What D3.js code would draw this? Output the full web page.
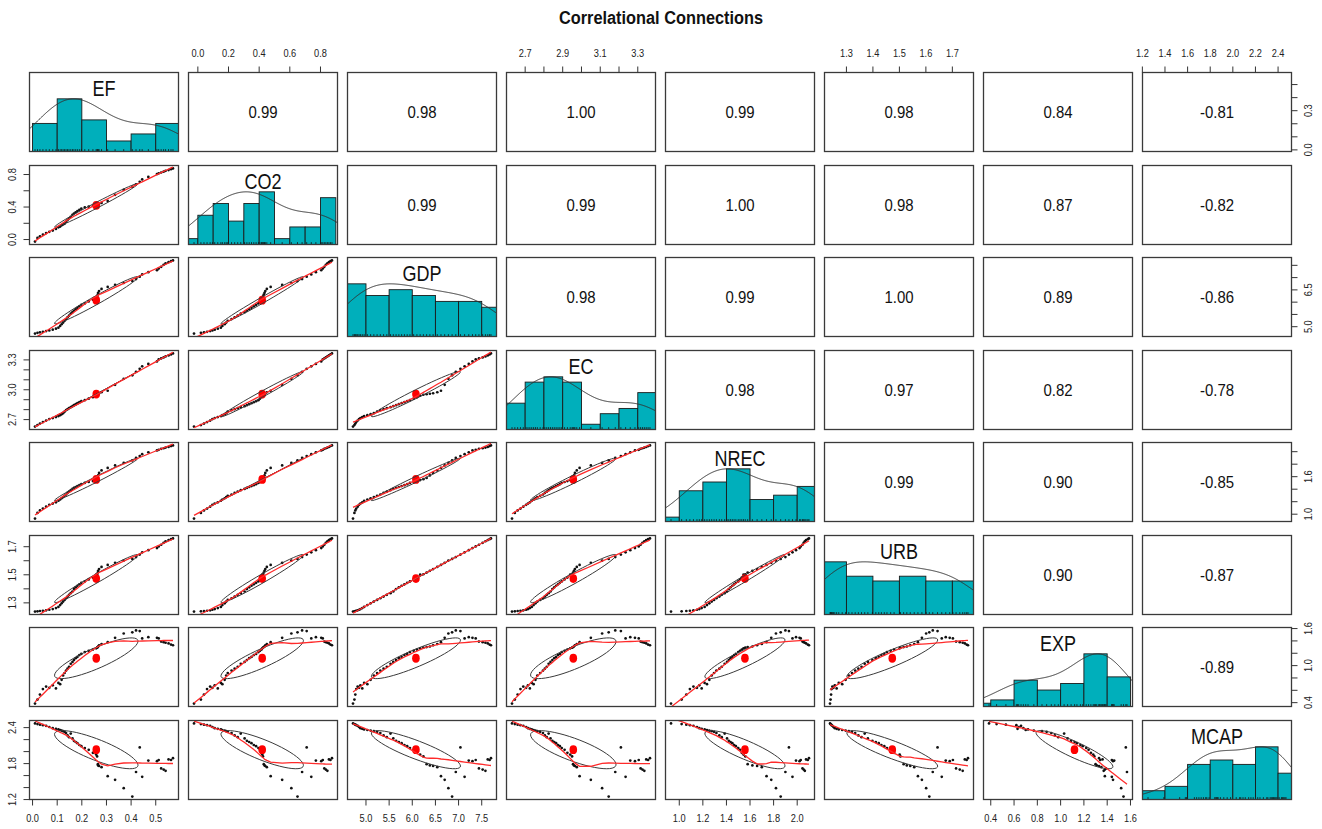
<!DOCTYPE html>
<html>
<head>
<meta charset="utf-8">
<title>Correlational Connections</title>
<script src="https://cdn.jsdelivr.net/npm/d3@7"></script>
<style>
  body { margin: 0; background: #fff; }
  svg { display: block; }
  text { font-family: "Liberation Sans", Arial, sans-serif; }
</style>
</head>
<body>
<svg id="chart" width="1322" height="829"></svg>
<script>
// ---- observations (48 yearly records, in time order) ----
const varNames = ["EF", "CO2", "GDP", "EC", "NREC", "URB", "EXP", "MCAP"];

const EF = [0.010, 0.020, 0.030, 0.042, 0.055, 0.068, 0.082, 0.095,
  0.105, 0.112, 0.118, 0.124, 0.130, 0.136, 0.142, 0.148, 0.155, 0.162, 0.168, 0.175, 0.182, 0.190, 0.198,
  0.212, 0.228, 0.245, 0.258, 0.262, 0.265, 0.266, 0.270, 0.280,
  0.305, 0.335, 0.370,
  0.405, 0.420, 0.435, 0.445, 0.470,
  0.505, 0.512, 0.522, 0.532, 0.540, 0.552, 0.562, 0.570];

const CO2 = [-0.025, 0.020, 0.040, 0.060, 0.080, 0.095,
  0.110, 0.130, 0.150, 0.160, 0.175, 0.185, 0.195,
  0.220, 0.240, 0.260, 0.280,
  0.305, 0.320, 0.335, 0.350, 0.365, 0.380, 0.395,
  0.405, 0.415, 0.420, 0.425, 0.430, 0.435, 0.440, 0.450, 0.475,
  0.550, 0.610, 0.650, 0.680, 0.710, 0.740, 0.770,
  0.805, 0.815, 0.825, 0.835, 0.845, 0.855, 0.865, 0.875];

const GDP = [4.72, 4.75, 4.77, 4.79, 4.82, 4.85, 4.88, 4.92, 4.96,
  5.03, 5.10, 5.17, 5.24, 5.31, 5.38, 5.45,
  5.53, 5.59, 5.65, 5.71, 5.77, 5.83, 5.89, 5.95,
  6.03, 6.10, 6.17, 6.24, 6.31, 6.38, 6.45,
  6.54, 6.62, 6.70, 6.78, 6.86, 6.94,
  7.04, 7.13, 7.22, 7.30, 7.37, 7.44,
  7.52, 7.58, 7.63, 7.67, 7.70];

const EC = [2.630, 2.645, 2.660, 2.675, 2.690,
  2.705, 2.715, 2.725, 2.735, 2.745, 2.755, 2.765, 2.780, 2.795,
  2.805, 2.815, 2.825, 2.835, 2.845, 2.855, 2.865, 2.875, 2.885, 2.895,
  2.910, 2.925, 2.940, 2.950, 2.955, 2.960, 2.965, 2.975, 2.990,
  3.050, 3.110, 3.145, 3.180,
  3.210, 3.235, 3.260, 3.285,
  3.305, 3.315, 3.325, 3.335, 3.345, 3.355, 3.365];

const NREC = [0.93, 1.02, 1.06, 1.09, 1.12, 1.15, 1.17, 1.19,
  1.215, 1.235, 1.255, 1.275, 1.295, 1.315, 1.34, 1.36, 1.385,
  1.405, 1.42, 1.435, 1.45, 1.465, 1.48, 1.50, 1.515, 1.53, 1.545, 1.56, 1.58,
  1.62, 1.66, 1.70, 1.74, 1.78,
  1.82, 1.86, 1.90, 1.93, 1.96, 1.99,
  2.02, 2.03, 2.045, 2.055, 2.065, 2.075, 2.09, 2.10];

const URB = [1.238, 1.240, 1.242, 1.244, 1.247, 1.251, 1.256, 1.263, 1.271, 1.284, 1.297,
  1.309, 1.321, 1.333, 1.345, 1.357, 1.369, 1.381, 1.398,
  1.411, 1.422, 1.432, 1.443, 1.453, 1.467, 1.480,
  1.501, 1.504, 1.516, 1.528, 1.541, 1.556, 1.570, 1.585,
  1.601, 1.613, 1.626, 1.644, 1.660, 1.675, 1.690,
  1.702, 1.714, 1.728, 1.739, 1.747, 1.754, 1.759];

const EXP = [0.385, 0.450, 0.530,
  0.620, 0.660, 0.640, 0.680, 0.630, 0.720, 0.700, 0.770,
  0.840, 0.880, 0.920, 0.950, 0.980,
  1.030, 1.060, 1.090, 1.120, 1.140, 1.170, 1.190,
  1.220, 1.240, 1.260, 1.280, 1.290, 1.300, 1.310, 1.330, 1.350, 1.380,
  1.450, 1.520, 1.540, 1.570, 1.560, 1.440, 1.460, 1.450, 1.440,
  1.390, 1.380, 1.370, 1.360, 1.340, 1.330];

const MCAP = [2.47, 2.46, 2.45, 2.44, 2.43, 2.41,
  2.39, 2.38, 2.37, 2.36, 2.35, 2.34, 2.33, 2.31, 2.27, 2.24, 2.30, 2.22,
  2.18, 2.16, 2.14, 2.11, 2.09, 2.06, 2.03,
  1.98, 1.95, 1.92, 1.79, 1.77, 1.76, 1.74,
  1.59, 1.53, 1.39, 1.25,
  1.66, 2.07, 1.58,
  1.85, 1.84, 1.86, 1.72, 1.70, 1.68, 1.87, 1.86, 1.89];

// Pearson correlations printed in the upper panels (row by row, right of the diagonal)
const corrEF   = [0.99, 0.98, 1.00, 0.99, 0.98, 0.84, -0.81];
const corrCO2  = [0.99, 0.99, 1.00, 0.98, 0.87, -0.82];
const corrGDP  = [0.98, 0.99, 1.00, 0.89, -0.86];
const corrEC   = [0.98, 0.97, 0.82, -0.78];
const corrNREC = [0.99, 0.90, -0.85];
const corrURB  = [0.90, -0.87];
const corrEXP  = [-0.89];

// Outer axis ticks; "col" labels sit on the top/bottom axes, "row" labels on the left/right axes
const efTicks   = [0, 0.1, 0.2, 0.3, 0.4, 0.5];
const co2Ticks  = [0, 0.2, 0.4, 0.6, 0.8];
const gdpTicks  = [5, 5.5, 6, 6.5, 7, 7.5];
const ecTicks   = [2.7, 2.8, 2.9, 3.0, 3.1, 3.2, 3.3];
const nrecTicks = [1.0, 1.2, 1.4, 1.6, 1.8, 2.0];
const urbTicks  = [1.3, 1.4, 1.5, 1.6, 1.7];
const expTicks  = [0.4, 0.6, 0.8, 1.0, 1.2, 1.4, 1.6];
const mcapTicks = [1.2, 1.4, 1.6, 1.8, 2.0, 2.2, 2.4];

const efColLabels   = efTicks;                 const efRowLabels   = [0, 0.3];
const co2ColLabels  = co2Ticks;                const co2RowLabels  = [0, 0.4, 0.8];
const gdpColLabels  = gdpTicks;                const gdpRowLabels  = [5, 6.5];
const ecColLabels   = [2.7, 2.9, 3.1, 3.3];    const ecRowLabels   = [2.7, 3.0, 3.3];
const nrecColLabels = nrecTicks;               const nrecRowLabels = [1.0, 1.6];
const urbColLabels  = urbTicks;                const urbRowLabels  = [1.3, 1.5, 1.7];
const expColLabels  = expTicks;                const expRowLabels  = [0.4, 1.0, 1.6];
const mcapColLabels = mcapTicks;               const mcapRowLabels = [1.2, 1.8, 2.4];

const titleText = "Correlational Connections";

// ---- assemble ----
const series = [EF, CO2, GDP, EC, NREC, URB, EXP, MCAP];
const corrRows = [corrEF, corrCO2, corrGDP, corrEC, corrNREC, corrURB, corrEXP];
const ticksByVar = [efTicks, co2Ticks, gdpTicks, ecTicks, nrecTicks, urbTicks, expTicks, mcapTicks];
const colLabelsByVar = [efColLabels, co2ColLabels, gdpColLabels, ecColLabels, nrecColLabels, urbColLabels, expColLabels, mcapColLabels];
const rowLabelsByVar = [efRowLabels, co2RowLabels, gdpRowLabels, ecRowLabels, nrecRowLabels, urbRowLabels, expRowLabels, mcapRowLabels];

const nVar = varNames.length;
const W = 149, H = 79;
const colX = k => Math.round(29 + k * 158.96) + 0.5;
const rowY = k => Math.round(72.3 + k * 92.53) + 0.5;
const histFill = "#00AFBB";
const smoothCol = "#ff2a2a";
const fmt = v => v.toFixed(1);

// R-style padded range (4% each side)
function padded(vals) {
  const [lo, hi] = d3.extent(vals);
  const r = hi - lo;
  return [lo - 0.04 * r, hi + 0.04 * r];
}
const xScales = series.map((s, j) => d3.scaleLinear().domain(padded(s)).range([colX(j), colX(j) + W]));
const yScales = series.map((s, i) => d3.scaleLinear().domain(padded(s)).range([rowY(i) + H, rowY(i)]));

// lowess smoother (Cleveland), f = 2/3, 3 robustness iterations
function lowess(xIn, yIn, f = 2 / 3, nsteps = 3) {
  const n = xIn.length;
  const order = d3.range(n).sort((a, b) => xIn[a] - xIn[b]);
  const x = [0].concat(order.map(i => xIn[i]));
  const y = [0].concat(order.map(i => yIn[i]));
  const ys = new Array(n + 1).fill(0);
  const rw = new Array(n + 1).fill(1);
  const w = new Array(n + 1).fill(0);
  const delta = 0.01 * (x[n] - x[1]);
  const ns = Math.max(2, Math.min(n, Math.floor(f * n + 1e-7)));
  const cube = v => v * v * v;

  function lowest(xs, nleft, nright, userw) {
    const range = x[n] - x[1];
    const h = Math.max(xs - x[nleft], x[nright] - xs);
    const h9 = 0.999 * h, h1 = 0.001 * h;
    let a = 0, j = nleft;
    while (j <= n) {
      w[j] = 0;
      const r = Math.abs(x[j] - xs);
      if (r <= h9) {
        w[j] = r <= h1 ? 1 : cube(1 - cube(r / h));
        if (userw) w[j] *= rw[j];
        a += w[j];
      } else if (x[j] > xs) break;
      j++;
    }
    const nrt = j - 1;
    if (a <= 0) return null;
    for (j = nleft; j <= nrt; j++) w[j] /= a;
    if (h > 0) {
      a = 0;
      for (j = nleft; j <= nrt; j++) a += w[j] * x[j];
      let b = xs - a, c = 0;
      for (j = nleft; j <= nrt; j++) c += w[j] * (x[j] - a) * (x[j] - a);
      if (Math.sqrt(c) > 0.001 * range) {
        b /= c;
        for (j = nleft; j <= nrt; j++) w[j] *= (b * (x[j] - a) + 1);
      }
    }
    let out = 0;
    for (j = nleft; j <= nrt; j++) out += w[j] * y[j];
    return out;
  }

  for (let iter = 1; iter <= nsteps + 1; iter++) {
    let nleft = 1, nright = ns, last = 0, i = 1;
    for (;;) {
      if (nright < n) {
        const d1 = x[i] - x[nleft], d2 = x[nright + 1] - x[i];
        if (d1 > d2) { nleft++; nright++; continue; }
      }
      const fit = lowest(x[i], nleft, nright, iter > 1);
      ys[i] = fit === null ? y[i] : fit;
      if (last < i - 1) {
        const denom = x[i] - x[last];
        for (let j = last + 1; j < i; j++) {
          const alpha = (x[j] - x[last]) / denom;
          ys[j] = alpha * ys[i] + (1 - alpha) * ys[last];
        }
      }
      last = i;
      const cut = x[last] + delta;
      for (i = last + 1; i <= n; i++) {
        if (x[i] > cut) break;
        if (x[i] === x[last]) { ys[i] = ys[last]; last = i; }
      }
      i = Math.max(last + 1, i - 1);
      if (last >= n) break;
    }
    const resid = d3.range(1, n + 1).map(k => y[k] - ys[k]);
    const sc = d3.sum(resid, Math.abs) / n;
    if (iter > nsteps) break;
    const sorted = resid.map(Math.abs).sort((a, b) => a - b);
    const m1 = Math.floor(n / 2);
    const cmad = n % 2 === 0 ? 3 * (sorted[m1] + sorted[n - m1 - 1]) : 6 * sorted[m1];
    if (cmad < 1e-7 * sc) break;
    const c9 = 0.999 * cmad, c1 = 0.001 * cmad;
    for (let k = 1; k <= n; k++) {
      const r = Math.abs(resid[k - 1]);
      rw[k] = r <= c1 ? 1 : (r <= c9 ? Math.pow(1 - (r / cmad) * (r / cmad), 2) : 0);
    }
  }
  return d3.range(1, n + 1).map(k => [x[k], ys[k]]);
}

// Gaussian kernel density, bandwidth nrd * 1.2, scaled to a peak of 1
function densityCurve(vals) {
  const n = vals.length;
  const sorted = vals.slice().sort((a, b) => a - b);
  const iqr = d3.quantile(sorted, 0.75) - d3.quantile(sorted, 0.25);
  const bw = 1.2 * 1.06 * Math.min(d3.deviation(vals), iqr / 1.34) * Math.pow(n, -0.2);
  const lo = sorted[0] - 3 * bw, hi = sorted[n - 1] + 3 * bw;
  const pts = d3.range(512).map(k => {
    const xv = lo + (hi - lo) * k / 511;
    return [xv, d3.sum(vals, v => Math.exp(-0.5 * ((xv - v) / bw) ** 2))];
  });
  const mx = d3.max(pts, p => p[1]);
  return pts.map(p => [p[0], p[1] / mx]);
}

// Sturges histogram on "pretty" breaks, right-closed bins
function histogram(vals) {
  const [lo, hi] = d3.extent(vals);
  const k = Math.ceil(Math.log2(vals.length) + 1);
  const step = d3.tickStep(lo, hi, k);
  const a = Math.floor(lo / step + 1e-9), b = Math.ceil(hi / step - 1e-9);
  const bins = [];
  for (let m = a; m < b; m++) {
    const x0 = +(m * step).toFixed(10), x1 = +((m + 1) * step).toFixed(10);
    const count = vals.filter(v => (v > x0 || (m === a && v >= x0)) && v <= x1).length;
    bins.push({ x0, x1, count });
  }
  return bins;
}

// text squeezed horizontally to the narrow look of the device font
function narrowText(parent, x, y, str, size, sx, rotate = 0) {
  return parent.append("text")
    .attr("transform", `translate(${x},${y})${rotate ? ` rotate(${rotate})` : ""} scale(${sx},1)`)
    .attr("text-anchor", "middle").attr("dominant-baseline", "central")
    .attr("font-size", size)
    .text(str);
}

const svg = d3.select("#chart");
const defs = svg.append("defs");

narrowText(svg, 661, 18, titleText, 19, 0.86)
  .attr("font-weight", "bold").attr("fill", "#111");

for (let i = 0; i < nVar; i++) {
  for (let j = 0; j < nVar; j++) {
    const px = colX(j), py = rowY(i);
    const clipId = `clip-${i}-${j}`;
    defs.append("clipPath").attr("id", clipId)
      .append("rect").attr("x", px).attr("y", py).attr("width", W).attr("height", H);
    const g = svg.append("g");
    const inner = g.append("g").attr("clip-path", `url(#${clipId})`);
    const xs = xScales[j];

    if (i === j) {
      // diagonal: histogram, density, rug and variable name
      const vals = series[i];
      const bins = histogram(vals);
      const maxCount = d3.max(bins, b => b.count);
      const yh = d3.scaleLinear().domain([0, 1.5]).range([py + H, py]);
      inner.selectAll("rect.bar").data(bins).join("rect")
        .attr("class", "bar")
        .attr("x", b => xs(b.x0)).attr("width", b => xs(b.x1) - xs(b.x0))
        .attr("y", b => yh(b.count / maxCount))
        .attr("height", b => yh(0) - yh(b.count / maxCount))
        .attr("fill", histFill).attr("stroke", "#1a1a1a").attr("stroke-width", 0.9);
      inner.append("path")
        .attr("d", d3.line().x(p => xs(p[0])).y(p => yh(p[1]))(densityCurve(vals)))
        .attr("fill", "none").attr("stroke", "#333").attr("stroke-width", 1);
      inner.selectAll("line.rug").data(vals).join("line")
        .attr("class", "rug")
        .attr("x1", v => xs(v)).attr("x2", v => xs(v))
        .attr("y1", py + H).attr("y2", py + H - 0.03 * H)
        .attr("stroke", "#111").attr("stroke-width", 0.8);
      narrowText(g, px + W / 2, py + 16, varNames[i], 22, 0.82).attr("fill", "#111");
    } else if (i > j) {
      // lower: scatter, mean, correlation ellipse, lowess
      const ys = yScales[i];
      const xv = series[j], yv = series[i];
      inner.selectAll("circle.pt").data(xv).join("circle")
        .attr("class", "pt")
        .attr("cx", (d, k) => xs(xv[k])).attr("cy", (d, k) => ys(yv[k]))
        .attr("r", 1.35).attr("fill", "#111");
      const mx = d3.mean(xv), my = d3.mean(yv);
      const sx = d3.deviation(xv), sy = d3.deviation(yv);
      const r = corrRows[j][i - j - 1];
      const th = (r >= 0 ? 1 : -1) / Math.SQRT2;
      const s1 = Math.sqrt(1 + r), s2 = Math.sqrt(1 - r);
      const ell = d3.range(52).map(k => {
        const a = k * 2 * Math.PI / 51, c = Math.cos(a), s = Math.sin(a);
        return [(c * s1 * th - s * s2 * th) * sx + mx, (c * s1 * th + s * s2 * th) * sy + my];
      });
      inner.append("ellipse")
        .attr("cx", xs(mx)).attr("cy", ys(my)).attr("rx", 3.8).attr("ry", 4.4).attr("fill", "#ff0000");
      inner.append("path")
        .attr("d", d3.line().x(p => xs(p[0])).y(p => ys(p[1]))(ell))
        .attr("fill", "none").attr("stroke", "#3a3a3a").attr("stroke-width", 1);
      inner.append("path")
        .attr("d", d3.line().x(p => xs(p[0])).y(p => ys(p[1]))(lowess(xv, yv)))
        .attr("fill", "none").attr("stroke", smoothCol).attr("stroke-width", 1.3);
    } else {
      // upper: correlation coefficient
      narrowText(g, px + W / 2, py + H / 2, corrRows[i][j - i - 1].toFixed(2), 17, 0.88)
        .attr("fill", "#111");
    }

    g.append("rect")
      .attr("x", px).attr("y", py).attr("width", W).attr("height", H)
      .attr("fill", "none").attr("stroke", "#3a3a3a").attr("stroke-width", 1.3);
  }
}

// ---- outer axes ----
const axisG = svg.append("g").attr("fill", "#222");
const tickLen = 6;
for (let k = 0; k < nVar; k++) {
  const ticks = ticksByVar[k];
  const colLab = colLabelsByVar[k];
  const rowLab = rowLabelsByVar[k];
  const xs = xScales[k], ys = yScales[k];
  // column axis: top for odd positions, bottom for even
  const onTop = k % 2 === 1;
  const yEdge = onTop ? rowY(0) : rowY(nVar - 1) + H;
  const dir = onTop ? -1 : 1;
  ticks.forEach(t => {
    axisG.append("line")
      .attr("x1", xs(t)).attr("x2", xs(t))
      .attr("y1", yEdge).attr("y2", yEdge + dir * tickLen)
      .attr("stroke", "#333").attr("stroke-width", 1);
  });
  colLab.forEach(t => narrowText(axisG, xs(t), yEdge + dir * 19, fmt(t), 10.5, 0.88));
  // row axis: left for odd positions, right for even
  const onLeft = k % 2 === 1;
  const xEdge = onLeft ? colX(0) : colX(nVar - 1) + W;
  const hdir = onLeft ? -1 : 1;
  ticks.forEach(t => {
    axisG.append("line")
      .attr("x1", xEdge).attr("x2", xEdge + hdir * tickLen)
      .attr("y1", ys(t)).attr("y2", ys(t))
      .attr("stroke", "#333").attr("stroke-width", 1);
  });
  rowLab.forEach(t => narrowText(axisG, xEdge + hdir * 17, ys(t), fmt(t), 10.5, 0.88, -90));
}
</script>
</body>
</html>
